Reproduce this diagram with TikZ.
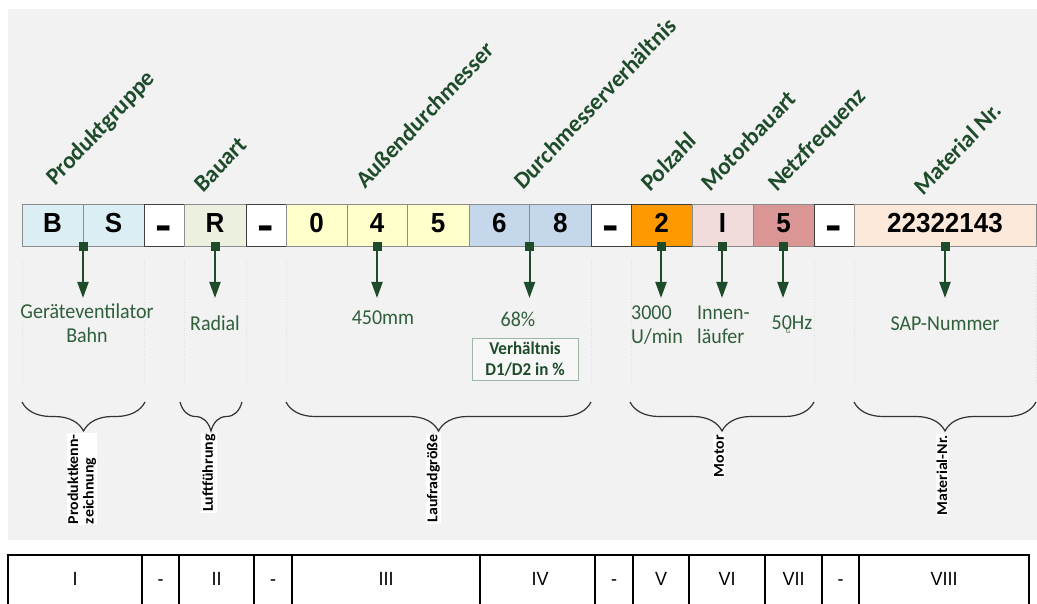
\documentclass[tikz,border=0pt]{standalone}
\usepackage{fontspec}
\usepackage{graphicx}
\setmainfont{Carlito}
\newfontfamily\arialf{Liberation Sans}
\usetikzlibrary{arrows.meta,decorations.pathreplacing}
\definecolor{bgc}{HTML}{F2F2F2}
\definecolor{dgreen}{HTML}{1E4C2A}
\definecolor{mgreen}{HTML}{2F5F3B}
\definecolor{cborder}{HTML}{8C8C8C}
\definecolor{cdark}{HTML}{404040}
\definecolor{cblue}{HTML}{DAEEF3}
\definecolor{cgreen}{HTML}{EBF1DE}
\definecolor{cyellow}{HTML}{FFFFCC}
\definecolor{csteel}{HTML}{C5D7EA}
\definecolor{corange}{HTML}{FF9900}
\definecolor{cpink}{HTML}{F2DCDB}
\definecolor{crose}{HTML}{DA9694}
\definecolor{cpeach}{HTML}{FDE9D9}
\definecolor{vbborder}{HTML}{9DB8A5}
\newcommand{\thickdash}{\raisebox{-6pt}{\scalebox{1.9}[1.55]{-}}}
\tikzset{
  ts/.style={yscale=1.06},
  cell/.style={ts, draw=cborder, line width=1pt, minimum height=38.7pt, inner sep=0pt, outer sep=0pt,
    anchor=west, font=\arialf\bfseries\fontsize{26}{30}\selectfont, text height=18.6pt, text depth=4.6pt},
  dcell/.style={cell, draw=cdark, fill=white},
  marker/.style={fill=dgreen, minimum size=9pt, inner sep=0pt, outer sep=0pt},
  arr/.style={draw=dgreen, line width=2pt, -{Triangle[length=16pt,width=11pt]}},
  toplbl/.style={ts, rotate=45, anchor=base west, inner sep=0pt, text=dgreen,
    font=\bfseries\fontsize{22.8}{27}\selectfont},
  lbl/.style={ts, text=mgreen, inner sep=0pt, font=\fontsize{20}{22.6}\selectfont},
  dotline/.style={draw=black!12, dotted, line width=0.6pt},
  brc/.style={decorate, decoration={brace, mirror, amplitude=29pt}, line width=1.2pt, draw=black!80},
  vlbl/.style={ts, rotate=90, anchor=east, fill=white, inner sep=1pt, text=black,
    font=\bfseries\fontsize{15}{15.5}\selectfont},
  tline/.style={draw=black, line width=2pt},
  tlbl/.style={ts, inner sep=0pt, font=\arialf\fontsize{18}{22}\selectfont, text height=12.9pt, text depth=0pt}
}
\begin{document}
\begin{tikzpicture}[x=1pt,y=-1pt]
\useasboundingbox (0,0) rectangle (1037,604);
\fill[bgc] (8,9) rectangle (1037,540);

% top rotated labels
\node[toplbl] (h1) at (55,187) {Produktgruppe};
\node[toplbl] (h2) at (203,194) {Bauart};
\node[toplbl] (h3) at (365,190) {Außendurchmesser};
\node[toplbl] (h4) at (523,191) {Durchmesserverhältnis};
\node[toplbl] (h5) at (650,193) {Polzahl};
\node[toplbl] (h6) at (710,193) {Motorbauart};
\node[toplbl] (h7) at (777,193) {Netzfrequenz};
\node[toplbl] (h8) at (923,197) {Material Nr.};

% code cells
\node[cell, fill=cblue, minimum width=61pt] (c1) at (22,225.5) {B};
\node[cell, fill=cblue, minimum width=61pt] (c2) at (83,225.5) {S};
\node[dcell, minimum width=40pt] (c3) at (144,225.5) {\thickdash};
\node[cell, fill=cgreen, minimum width=62pt] (c4) at (184,225.5) {R};
\node[dcell, minimum width=40pt] (c5) at (246,225.5) {\thickdash};
\node[cell, fill=cyellow, minimum width=61pt] (c6) at (286,225.5) {0};
\node[cell, fill=cyellow, minimum width=60pt] (c7) at (347,225.5) {4};
\node[cell, fill=cyellow, minimum width=62pt] (c8) at (407,225.5) {5};
\node[cell, fill=csteel, minimum width=60.5pt] (c9) at (469,225.5) {6};
\node[cell, fill=csteel, minimum width=61.5pt] (c10) at (529.5,225.5) {8};
\node[dcell, minimum width=40pt] (c11) at (591,225.5) {\thickdash};
\node[cell, fill=corange, draw=cdark, minimum width=61pt] (c12) at (631,225.5) {2};
\node[cell, fill=cpink, minimum width=61pt] (c13) at (692,225.5) {I};
\node[cell, fill=crose, minimum width=61pt] (c14) at (753,225.5) {5};
\node[dcell, minimum width=40pt] (c15) at (814,225.5) {\thickdash};
\node[cell, fill=cpeach, minimum width=182pt] (c16) at (854,225.5) {22322143};

% faint dotted guide lines
\foreach \gx in {22,144,184,246,286,591,631,814,854,1036}
  \draw[dotline] (\gx,260) -- (\gx,384);

% markers and arrows
\node[marker] (m1) at (83,247) {};
\node[marker] (m2) at (215,247) {};
\node[marker] (m3) at (377,247) {};
\node[marker] (m4) at (529.5,247) {};
\node[marker] (m5) at (661,247) {};
\node[marker] (m6) at (722,247) {};
\node[marker] (m7) at (783,247) {};
\node[marker] (m8) at (945,247) {};
\coordinate (t1) at (83,298);
\coordinate (t2) at (215,298);
\coordinate (t3) at (377,298);
\coordinate (t4) at (529.5,298);
\coordinate (t5) at (661,298);
\coordinate (t6) at (722,298);
\coordinate (t7) at (783,298);
\coordinate (t8) at (945,298);
\foreach \i in {1,...,8} \draw[arr] (m\i.center) -- (t\i);

% value labels
\node[lbl, align=center] (v1) at (87,323.5) {Geräteventilator\\Bahn};
\node[lbl] (v2) at (215,323) {Radial};
\node[lbl] (v3) at (383,318) {450mm};
\node[lbl] (v4) at (518,319) {68\%};
\node[lbl, align=left, anchor=west] (v5) at (631,325) {3000\\U/min};
\node[lbl, align=left, anchor=west] (v6) at (697,325) {Innen-\\läufer};
\node[lbl] (v7) at (792,323) {50Hz};
\node[text=mgreen, inner sep=0pt, font=\fontsize{7}{8}\selectfont] (v7g) at (788,331) {G};
\node[lbl] (v8) at (945,324) {SAP-Nummer};
\node[ts, draw=vbborder, line width=1pt, fill=white!40!bgc, minimum width=106pt, minimum height=38.7pt,
  inner sep=0pt, align=center, text=dgreen, font=\bfseries\fontsize{17}{19.8}\selectfont]
  (vb) at (525,359.5) {Verhältnis\\D1/D2 in \%};

% braces
\draw[brc] (22,402) -- (145,402);
\draw[brc] (180,402) -- (242,402);
\draw[brc] (286,402) -- (591,402);
\draw[brc] (630,402) -- (814,402);
\draw[brc] (854,402) -- (1036,402);

% group labels
\node[vlbl, align=left] (g1) at (82,433) {Produktkenn-\\zeichnung};
\node[vlbl] (g2) at (209,433) {Luftführung};
\node[vlbl] (g3) at (433.5,433) {Laufradgröße};
\node[vlbl] (g4) at (719,434) {Motor};
\node[vlbl] (g5) at (942,434) {Material-Nr.};

% table
\draw[tline] (8,605) -- (8,555) -- (1029,555) -- (1029,605);
\foreach \tx in {142,179,254,292,480,595,633,689,765,822,859}
  \draw[tline] (\tx,555) -- (\tx,605);
\node[tlbl] (r1) at (75,579) {I};
\node[tlbl] (r2) at (160.5,579) {-};
\node[tlbl] (r3) at (216.5,579) {II};
\node[tlbl] (r4) at (273,579) {-};
\node[tlbl] (r5) at (386,579) {III};
\node[tlbl] (r6) at (540,579) {IV};
\node[tlbl] (r7) at (614,579) {-};
\node[tlbl] (r8) at (661,579) {V};
\node[tlbl] (r9) at (727,579) {VI};
\node[tlbl] (r10) at (793.5,579) {VII};
\node[tlbl] (r11) at (840.5,579) {-};
\node[tlbl] (r12) at (944,579) {VIII};
\end{tikzpicture}
\end{document}
